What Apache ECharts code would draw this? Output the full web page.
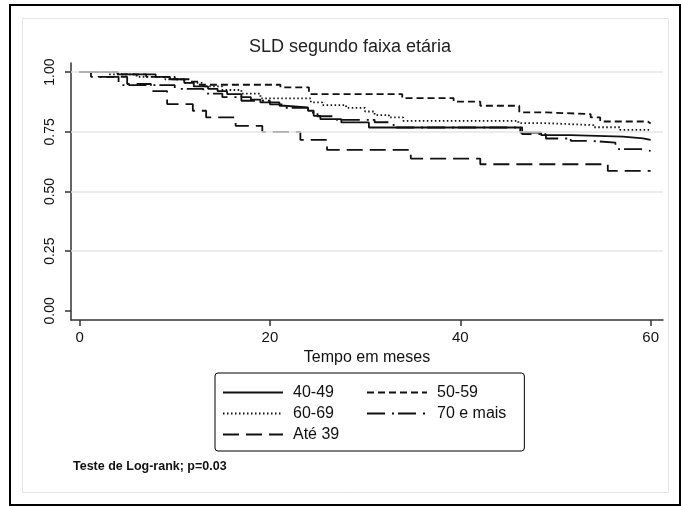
<!DOCTYPE html>
<html>
<head>
<meta charset="utf-8">
<title>SLD segundo faixa etária</title>
<script src="https://cdn.jsdelivr.net/npm/echarts@6/dist/echarts.min.js"></script>
<style>
  html, body { margin: 0; padding: 0; background: #fff; }
  #main { width: 682px; height: 506px; }
</style>
</head>
<body>
<div id="main"></div>
<script>
// meses / sobrevida por faixa etaria
var t4049 = [0, 4, 8, 9.5, 11, 12, 13.5, 14.5, 15.5, 17, 18, 19, 21, 21.5, 24, 24.6, 25.3, 27.5, 30.4, 46.3, 48.5, 51.6, 57.1, 59.2, 60];
var s4049 = [1, 0.99, 0.98, 0.97, 0.955, 0.94, 0.93, 0.92, 0.908, 0.895, 0.885, 0.873, 0.859, 0.852, 0.838, 0.817, 0.803, 0.789, 0.768, 0.747, 0.736, 0.73, 0.722, 0.716, 0.716];

var t5059 = [0, 4, 7, 10, 11.5, 12.5, 21.1, 24.1, 33.9, 39.3, 42.1, 46.2, 49.1, 53.7, 54.7, 59.7, 60];
var s5059 = [1, 0.99, 0.98, 0.97, 0.96, 0.947, 0.936, 0.908, 0.891, 0.876, 0.859, 0.831, 0.824, 0.81, 0.793, 0.785, 0.785];

var t6069 = [0, 3, 6, 9, 11, 13, 15, 17, 19, 24.3, 25.5, 28, 30, 31, 32.5, 34, 46.1, 49.1, 54, 56.8, 60];
var s6069 = [1, 0.99, 0.98, 0.97, 0.955, 0.94, 0.925, 0.91, 0.89, 0.873, 0.862, 0.85, 0.835, 0.82, 0.81, 0.796, 0.786, 0.778, 0.769, 0.758, 0.758];

var t70 = [0, 1.2, 4.1, 10, 13, 15, 17, 20, 21.5, 24, 25, 27, 31, 33, 46.5, 49, 51.6, 53.6, 56.3, 59, 60];
var s70 = [1, 0.98, 0.945, 0.93, 0.91, 0.895, 0.88, 0.865, 0.85, 0.83, 0.815, 0.8, 0.79, 0.768, 0.74, 0.722, 0.712, 0.705, 0.677, 0.67, 0.67];

var tAte = [0, 2, 5, 7.5, 9.2, 11.9, 13.3, 16.4, 19.2, 23.2, 26, 34.8, 42.1, 55.5, 60];
var sAte = [1, 0.98, 0.95, 0.92, 0.866, 0.838, 0.81, 0.775, 0.75, 0.716, 0.674, 0.638, 0.614, 0.586, 0.586];

var xTicks = [0, 20, 40, 60];
var yTicks = [0, 0.25, 0.5, 0.75, 1];
var gridVals = [0.25, 0.5, 0.75, 1];

function pares(t, s) {
    var out = [];
    t.forEach(function (n, i) { out.push([n, s[i]]); });
    return out;
}

var fonte = '"Liberation Sans", Arial, sans-serif';

function serie(nome, t, s, tipo) {
    return {
        name: nome,
        type: 'line',
        step: 'end',
        symbol: 'none',
        silent: true,
        lineStyle: { color: '#111', width: 1.8, type: tipo, cap: 'butt' },
        itemStyle: { color: '#111' },
        data: pares(t, s)
    };
}

var series = [
    serie('40-49', t4049, s4049, 'solid'),
    serie('50-59', t5059, s5059, [7, 4]),
    serie('60-69', t6069, s6069, [1.5, 2.5]),
    serie('70 e mais', t70, s70, [18, 7, 2, 4]),
    serie('Até 39', tAte, sAte, [16, 7])
];
// linhas de grade
series[0].markLine = {
    silent: true,
    symbol: 'none',
    label: { show: false },
    lineStyle: { color: '#e6e6e6', width: 1.5, type: 'solid' },
    data: gridVals.map(function (v) { return { yAxis: v }; })
};
series[0].z = 3;

var option = {
    animation: false,
    backgroundColor: '#fff',
    textStyle: { fontFamily: fonte },
    graphic: [
        { type: 'rect', shape: { x: 10, y: 5, width: 670, height: 500 }, style: { fill: '#fff', stroke: '#000', lineWidth: 2 }, z: -10 },
        { type: 'rect', shape: { x: 22.5, y: 18.5, width: 646, height: 474 }, style: { fill: '#fff', stroke: '#e4e4e4', lineWidth: 1 }, z: -9 },
        { type: 'text', left: 73, top: 460, style: { text: 'Teste de Log-rank; p=0.03', fill: '#111', font: 'bold 12.5px "Liberation Sans", Arial, sans-serif' } }
    ],
    title: {
        text: 'SLD segundo faixa etária',
        left: 345,
        textAlign: 'center',
        top: 33,
        textStyle: { fontSize: 18, fontWeight: 'normal', color: '#222', fontFamily: fonte }
    },
    legend: {
        left: 215,
        top: 373,
        width: 300,
        orient: 'horizontal',
        padding: [11, 18, 8, 7],
        itemGap: 4,
        itemWidth: 60,
        itemHeight: 14,
        borderColor: '#000',
        borderWidth: 1,
        borderRadius: 3,
        selectedMode: false,
        itemStyle: { opacity: 0 },
        data: ['40-49', '50-59', '60-69', '70 e mais', 'Até 39'],
        textStyle: { fontSize: 16, color: '#111', width: 69, lineHeight: 17, padding: [0, 0, 0, 5], fontFamily: fonte }
    },
    grid: { left: 71, right: 19, top: 63, bottom: 186, containLabel: false },
    xAxis: {
        type: 'value',
        min: -0.9,
        max: 61.3,
        name: 'Tempo em meses',
        nameLocation: 'middle',
        nameGap: 28,
        nameTextStyle: { fontSize: 16, color: '#111', fontFamily: fonte },
        axisLine: { show: true, onZero: false, lineStyle: { color: '#333', width: 1.5 } },
        axisTick: { show: true, length: 6, customValues: xTicks, lineStyle: { color: '#333', width: 1.5 } },
        axisLabel: { customValues: xTicks, fontSize: 15, color: '#111', margin: 10 },
        splitLine: { show: false }
    },
    yAxis: {
        type: 'value',
        min: -0.038,
        max: 1.038,
        axisLine: { show: true, onZero: false, lineStyle: { color: '#333', width: 1.5 } },
        axisTick: { show: true, length: 6, customValues: yTicks, lineStyle: { color: '#333', width: 1.5 } },
        axisLabel: {
            customValues: yTicks,
            rotate: 90,
            fontSize: 14,
            color: '#111',
            margin: 14,
            formatter: function (v) { return v.toFixed(2); }
        },
        splitLine: { show: false }
    },
    series: series
};

var chart = echarts.init(document.getElementById('main'));
chart.setOption(option);
</script>
</body>
</html>
